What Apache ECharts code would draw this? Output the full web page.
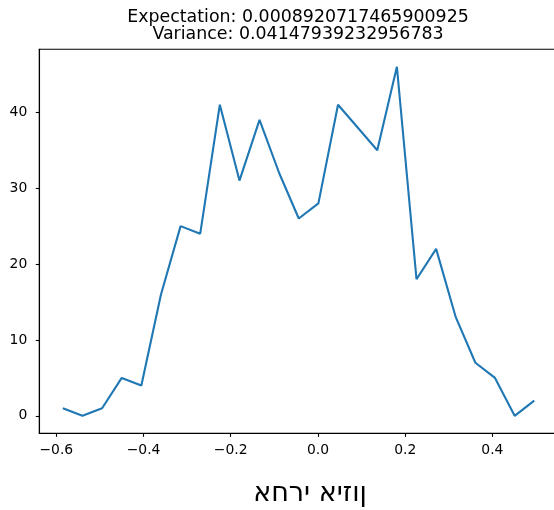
<!DOCTYPE html>
<html>
<head>
<meta charset="utf-8">
<script src="https://cdn.jsdelivr.net/npm/echarts@6/dist/echarts.min.js"></script>
<style>
html,body{margin:0;padding:0;background:#fff;}
#chart{width:554px;height:510px;}
</style>
</head>
<body>
<div id="chart"></div>
<script>
// Data
const xValues = [-0.585, -0.540, -0.495, -0.450, -0.405, -0.360, -0.315, -0.270, -0.225, -0.180, -0.134, -0.089, -0.044, 0.001, 0.046, 0.091, 0.136, 0.181, 0.226, 0.271, 0.316, 0.361, 0.406, 0.451, 0.496];
const counts = [1, 0, 1, 5, 4, 16, 25, 24, 41, 31, 39, 32, 26, 28, 41, 38, 35, 46, 18, 22, 13, 7, 5, 0, 2];
const xTicks = [-0.6, -0.4, -0.2, 0.0, 0.2, 0.4];
const yTicks = [0, 10, 20, 30, 40];
const titleLines = ['Expectation: 0.0008920717465900925', 'Variance: 0.04147939232956783'];
const xLabelText = 'אחרי איזון';

const FONT = 'DejaVu Sans';
const chart = echarts.init(document.getElementById('chart'), null, {renderer: 'canvas'});
const seriesData = xValues.map((x, i) => [x, counts[i]]);

chart.setOption({
  animation: false,
  backgroundColor: '#fff',
  graphic: [{
    type: 'text',
    x: 298, y: 9,
    style: {
      text: titleLines.join('\n'),
      font: '17.4px "DejaVu Sans"',
      lineHeight: 17.3,
      fill: '#000',
      align: 'center',
      verticalAlign: 'top'
    }
  }, {
    type: 'text',
    x: 310, y: 494,
    style: {
      text: '\u202D' + xLabelText + '\u202C',
      font: '27px "DejaVu Sans"',
      fill: '#000',
      align: 'center',
      verticalAlign: 'middle'
    }
  }],
  grid: {
    left: 39.3, top: 49.3, right: -3.8, bottom: 76.7,
    outerBoundsMode: 'none',
    containLabel: false,
    show: true, borderColor: '#000', borderWidth: 1.1, backgroundColor: 'transparent'
  },
  xAxis: {
    type: 'value', min: -0.639, max: 0.550,
    axisLine: {show: true, onZero: false, lineStyle: {color: '#000', width: 1.1}},
    axisTick: {show: true, customValues: xTicks, length: 3.5, lineStyle: {color: '#000', width: 1.1}},
    axisLabel: {
      show: true, customValues: xTicks, margin: 10,
      fontFamily: FONT, fontSize: 13.9, color: '#000',
      formatter: v => v.toFixed(1).replace('-', '\u2212')
    },
    splitLine: {show: false}
  },
  yAxis: {
    type: 'value', min: -2.3, max: 48.3,
    axisLine: {show: true, onZero: false, lineStyle: {color: '#000', width: 1.1}},
    axisTick: {show: true, customValues: yTicks, length: 3.5, lineStyle: {color: '#000', width: 1.1}},
    axisLabel: {
      show: true, customValues: yTicks, margin: 12,
      fontFamily: FONT, fontSize: 13.9, color: '#000',
      formatter: v => String(v)
    },
    splitLine: {show: false}
  },
  series: [{
    type: 'line',
    data: seriesData,
    showSymbol: false,
    symbol: 'none',
    lineStyle: {color: '#1f77b4', width: 2.1},
    itemStyle: {color: '#1f77b4'}
  }]
});
</script>
</body>
</html>
